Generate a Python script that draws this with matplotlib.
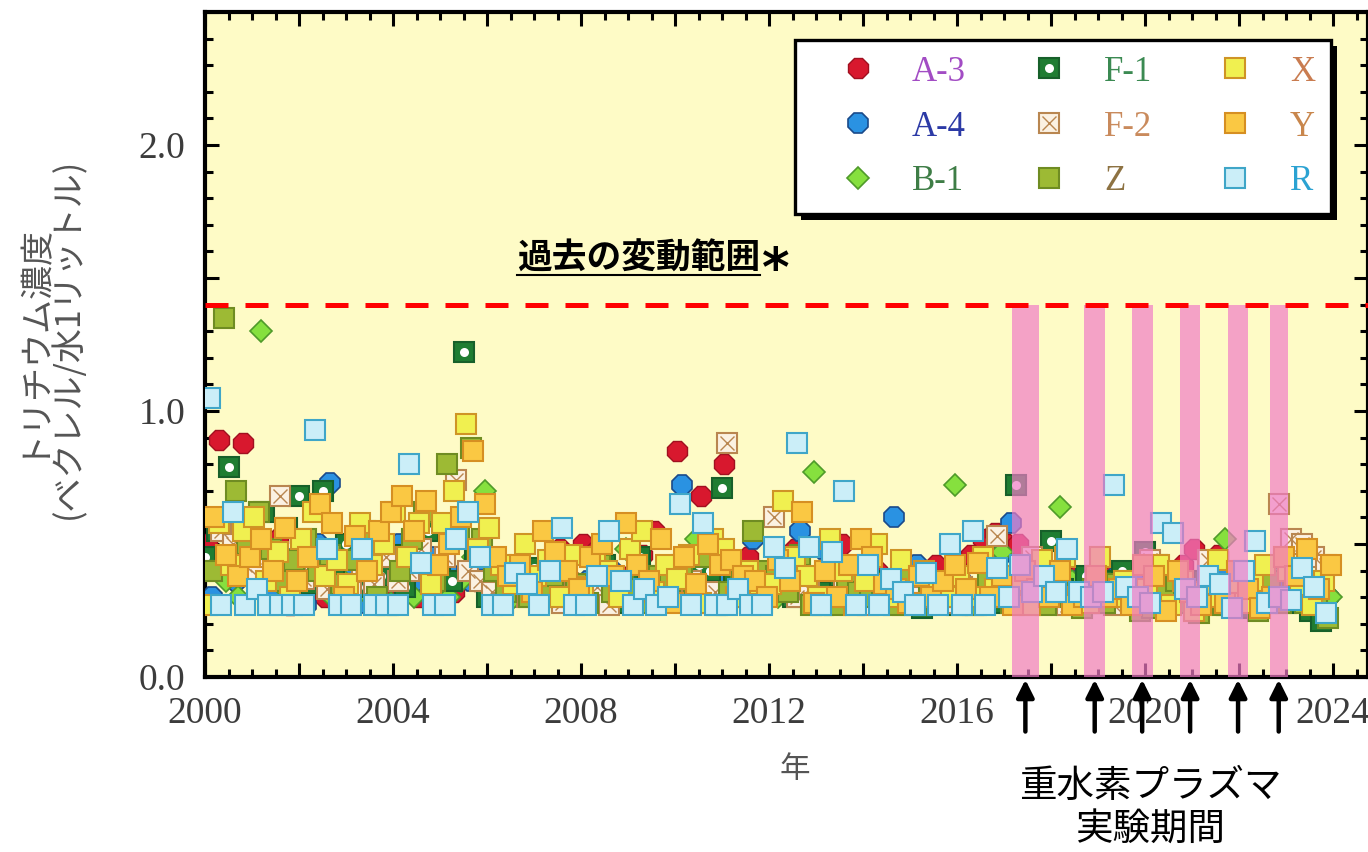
import numpy as np
import matplotlib
matplotlib.use("Agg")
import matplotlib.pyplot as plt
from matplotlib.lines import Line2D
from matplotlib.patches import Rectangle
from matplotlib.legend_handler import HandlerTuple
from matplotlib.ticker import MultipleLocator, FuncFormatter

JP = ["Noto Sans CJK JP", "DejaVu Sans"]
plt.rcParams["font.family"] = ["Liberation Serif", "DejaVu Serif"]

# ---------------------------------------------------------------- data
stations = ["A-3", "A-4", "B-1", "F-1", "F-2", "Z", "X", "Y", "R"]

# first sampling date of each station (decimal year); quarterly afterwards
first_sample = [2000.05, 2000.15, 2000.20, 2000.00, 2000.10,
                2000.15, 2000.05, 2000.20, 2000.10]

# tritium concentration, Bq per litre of water, one row per year 2000-2023
a3_vals = [
    0.50, 0.89, 0.60, 0.88,  0.45, 0.40, 0.52, 0.27,  0.38, 0.45, 0.30, 0.42,
    0.40, 0.35, 0.48, 0.33,  0.36, 0.42, 0.30, 0.38,  0.45, 0.32, 0.40, 0.36,
    0.38, 0.30, 0.42, 0.35,  0.33, 0.40, 0.48, 0.36,  0.50, 0.47, 0.35, 0.30,
    0.38, 0.46, 0.55, 0.32,  0.85, 0.44, 0.68, 0.40,  0.80, 0.35, 0.45, 0.33,
    0.40, 0.36, 0.48, 0.33,  0.38, 0.30, 0.50, 0.35,  0.33, 0.40, 0.30, 0.36,
    0.30, 0.36, 0.42, 0.33,  0.40, 0.46, 0.52, 0.54,  0.50, 0.50, 0.42, 0.36,
    0.36, 0.33, 0.38, 0.35,  0.40, 0.38, 0.36, 0.33,  0.30, 0.38, 0.33, 0.42,
    0.48, 0.36, 0.46, 0.40,  0.35, 0.38, 0.33, 0.30,  0.36, 0.30, 0.33, 0.28,
]
a4_vals = [
    0.30, 0.42, 0.36, 0.48,  0.40, 0.30, 0.45, 0.35,  0.27, 0.50, 0.73, 0.40,
    0.38, 0.28, 0.42, 0.48,  0.50, 0.35, 0.58, 0.45,  0.40, 0.52, 0.36, 0.44,
    0.33, 0.38, 0.30, 0.36,  0.40, 0.35, 0.32, 0.30,  0.36, 0.30, 0.40, 0.33,
    0.30, 0.36, 0.33, 0.28,  0.72, 0.40, 0.35, 0.30,  0.38, 0.30, 0.52, 0.35,
    0.33, 0.40, 0.55, 0.30,  0.48, 0.35, 0.40, 0.33,  0.30, 0.36, 0.60, 0.40,
    0.42, 0.33, 0.36, 0.30,  0.35, 0.30, 0.40, 0.45,  0.58, 0.42, 0.36, 0.33,
    0.30, 0.36, 0.34, 0.30,  0.33, 0.38, 0.30, 0.36,  0.40, 0.30, 0.33, 0.28,
    0.33, 0.30, 0.38, 0.30,  0.30, 0.33, 0.28, 0.35,  0.28, 0.30, 0.26, 0.30,
]
b1_vals = [
    0.41, 0.36, 0.30, 0.45,  1.30, 0.40, 0.33, 0.38,  0.35, 0.45, 0.30, 0.36,
    0.30, 0.38, 0.33, 0.28,  0.36, 0.30, 0.40, 0.34,  0.30, 0.36, 0.45, 0.70,
    0.33, 0.28, 0.36, 0.30,  0.30, 0.45, 0.33, 0.28,  0.34, 0.30, 0.38, 0.48,
    0.28, 0.33, 0.30, 0.36,  0.30, 0.52, 0.36, 0.28,  0.33, 0.30, 0.28, 0.35,
    0.30, 0.36, 0.36, 0.77,  0.33, 0.30, 0.36, 0.28,  0.30, 0.28, 0.33, 0.30,
    0.28, 0.33, 0.30, 0.72,  0.30, 0.28, 0.33, 0.47,  0.36, 0.30, 0.42, 0.33,
    0.64, 0.36, 0.28, 0.33,  0.30, 0.33, 0.28, 0.30,  0.33, 0.30, 0.36, 0.28,
    0.30, 0.28, 0.52, 0.33,  0.30, 0.28, 0.30, 0.42,  0.33, 0.30, 0.28, 0.30,
]
f1_vals = [
    0.45, 0.55, 0.79, 0.38,  0.48, 0.62, 0.40, 0.56,  0.68, 0.35, 0.70, 0.42,
    0.50, 0.34, 0.45, 0.38,  0.46, 0.34, 0.40, 0.55,  0.42, 0.36, 1.22, 0.47,
    0.30, 0.40, 0.36, 0.33,  0.41, 0.30, 0.36, 0.32,  0.35, 0.30, 0.42, 0.28,
    0.36, 0.45, 0.30, 0.34,  0.30, 0.37, 0.42, 0.40,  0.71, 0.36, 0.32, 0.30,
    0.33, 0.45, 0.30, 0.35,  0.28, 0.32, 0.38, 0.30,  0.34, 0.28, 0.36, 0.30,
    0.30, 0.26, 0.33, 0.36,  0.27, 0.32, 0.30, 0.28,  0.30, 0.72, 0.34, 0.30,
    0.51, 0.33, 0.30, 0.38,  0.28, 0.36, 0.40, 0.30,  0.47, 0.42, 0.30, 0.33,
    0.28, 0.36, 0.30, 0.27,  0.32, 0.26, 0.33, 0.30,  0.28, 0.30, 0.25, 0.21,
]
f2_vals = [
    0.40, 0.55, 0.50, 0.42,  0.38, 0.45, 0.68, 0.36,  0.37, 0.44, 0.33, 0.30,
    0.32, 0.42, 0.35, 0.45,  0.36, 0.40, 0.48, 0.38,  0.45, 0.74, 0.40, 0.36,
    0.32, 0.28, 0.36, 0.30,  0.34, 0.30, 0.28, 0.33,  0.30, 0.34, 0.27, 0.36,
    0.28, 0.33, 0.38, 0.30,  0.32, 0.36, 0.28, 0.32,  0.88, 0.30, 0.34, 0.28,
    0.60, 0.32, 0.30, 0.33,  0.30, 0.28, 0.35, 0.30,  0.27, 0.32, 0.29, 0.27,
    0.30, 0.27, 0.33, 0.28,  0.34, 0.27, 0.30, 0.53,  0.30, 0.28, 0.45, 0.30,
    0.33, 0.27, 0.30, 0.28,  0.30, 0.27, 0.36, 0.30,  0.44, 0.28, 0.30, 0.33,
    0.27, 0.44, 0.30, 0.28,  0.30, 0.28, 0.33, 0.65,  0.52, 0.50, 0.45, 0.42,
]
z_vals = [
    0.40, 1.35, 0.70, 0.50,  0.62, 0.48, 0.36, 0.44,  0.52, 0.40, 0.46, 0.35,
    0.44, 0.55, 0.30, 0.27,  0.40, 0.52, 0.62, 0.36,  0.80, 0.55, 0.86, 0.52,
    0.40, 0.32, 0.36, 0.30,  0.34, 0.38, 0.30, 0.35,  0.28, 0.42, 0.32, 0.35,
    0.33, 0.28, 0.38, 0.36,  0.42, 0.30, 0.45, 0.27,  0.32, 0.38, 0.55, 0.40,
    0.38, 0.32, 0.46, 0.27,  0.27, 0.27, 0.36, 0.32,  0.30, 0.33, 0.27, 0.38,
    0.27, 0.34, 0.36, 0.30,  0.33, 0.27, 0.36, 0.30,  0.28, 0.34, 0.30, 0.27,
    0.36, 0.30, 0.26, 0.33,  0.28, 0.35, 0.30, 0.25,  0.26, 0.33, 0.36, 0.28,
    0.24, 0.30, 0.27, 0.33,  0.30, 0.25, 0.36, 0.28,  0.33, 0.28, 0.30, 0.22,
]
x_vals = [
    0.27, 0.58, 0.42, 0.55,  0.60, 0.36, 0.47, 0.30,  0.52, 0.62, 0.38, 0.44,
    0.35, 0.58, 0.42, 0.50,  0.62, 0.45, 0.58, 0.35,  0.58, 0.70, 0.95, 0.48,
    0.56, 0.42, 0.35, 0.50,  0.38, 0.44, 0.30, 0.46,  0.34, 0.45, 0.40, 0.30,
    0.48, 0.55, 0.32, 0.42,  0.37, 0.46, 0.28, 0.52,  0.48, 0.30, 0.40, 0.35,
    0.35, 0.66, 0.45, 0.38,  0.30, 0.52, 0.40, 0.27,  0.36, 0.50, 0.30, 0.44,
    0.28, 0.40, 0.34, 0.30,  0.38, 0.30, 0.45, 0.33,  0.30, 0.36, 0.27, 0.44,
    0.33, 0.45, 0.30, 0.28,  0.45, 0.30, 0.36, 0.28,  0.33, 0.42, 0.27, 0.36,
    0.25, 0.30, 0.44, 0.33,  0.28, 0.36, 0.42, 0.30,  0.40, 0.33, 0.27, 0.36,
]
y_vals = [
    0.60, 0.46, 0.38, 0.45,  0.52, 0.40, 0.56, 0.36,  0.45, 0.65, 0.58, 0.30,
    0.53, 0.40, 0.55, 0.62,  0.68, 0.55, 0.66, 0.42,  0.50, 0.60, 0.85, 0.65,
    0.45, 0.38, 0.42, 0.32,  0.55, 0.47, 0.40, 0.33,  0.45, 0.50, 0.38, 0.58,
    0.42, 0.36, 0.52, 0.28,  0.45, 0.35, 0.50, 0.42,  0.44, 0.38, 0.36, 0.30,
    0.44, 0.36, 0.62, 0.28,  0.40, 0.30, 0.42, 0.52,  0.45, 0.35, 0.33, 0.28,
    0.38, 0.30, 0.36, 0.42,  0.33, 0.43, 0.30, 0.38,  0.27, 0.40, 0.33, 0.30,
    0.40, 0.27, 0.30, 0.38,  0.30, 0.33, 0.27, 0.42,  0.38, 0.25, 0.40, 0.32,
    0.27, 0.35, 0.28, 0.40,  0.33, 0.26, 0.30, 0.45,  0.38, 0.48, 0.33, 0.42,
]
r_vals = [
    1.05, 0.27, 0.62, 0.27,  0.33, 0.27, 0.27, 0.27,  0.27, 0.93, 0.48, 0.27,
    0.27, 0.48, 0.27, 0.27,  0.27, 0.80, 0.43, 0.27,  0.27, 0.52, 0.62, 0.45,
    0.27, 0.27, 0.39, 0.35,  0.27, 0.40, 0.56, 0.27,  0.27, 0.38, 0.55, 0.36,
    0.27, 0.33, 0.27, 0.30,  0.65, 0.27, 0.58, 0.27,  0.27, 0.33, 0.27, 0.27,
    0.49, 0.41, 0.88, 0.49,  0.27, 0.47, 0.70, 0.27,  0.42, 0.27, 0.37, 0.32,
    0.27, 0.39, 0.27, 0.50,  0.27, 0.55, 0.27, 0.41,  0.30, 0.42, 0.32, 0.38,
    0.32, 0.48, 0.32, 0.30,  0.32, 0.72, 0.34, 0.30,  0.28, 0.58, 0.54, 0.33,
    0.30, 0.38, 0.35, 0.26,  0.40, 0.51, 0.28, 0.30,  0.29, 0.41, 0.34, 0.24,
]
all_vals = [a3_vals, a4_vals, b1_vals, f1_vals, f2_vals,
            z_vals, x_vals, y_vals, r_vals]

# deuterium plasma experiment campaigns (decimal years)
campaign_start = [2017.16, 2018.71, 2019.72, 2020.75, 2021.77, 2022.65]
campaign_end = [2017.75, 2019.15, 2020.16, 2021.17, 2022.19, 2023.04]

past_range_max = 1.40

# ---------------------------------------------------------------- styles
styles = {
    "A-3": dict(marker="8", ms=15, mfc="#d8182e", mec="#a01020", mew=1.0),
    "A-4": dict(marker="8", ms=15, mfc="#2a92e2", mec="#1a4a8a", mew=1.2),
    "B-1": dict(marker="D", ms=11.5, mfc="#86e03e", mec="#4f9a2a", mew=1.2),
    "F-1": dict(marker="s", ms=15, mfc="#1f7d32", mec="#17602a", mew=1.5),
    "F-2": dict(marker="s", ms=15, mfc="#fbf1e2", mec="#b98650", mew=1.5),
    "Z":   dict(marker="s", ms=15, mfc="#9dba34", mec="#6f8c22", mew=1.5),
    "X":   dict(marker="s", ms=15, mfc="#f0f050", mec="#cf9426", mew=1.5),
    "Y":   dict(marker="s", ms=15, mfc="#fac843", mec="#d68f22", mew=1.5),
    "R":   dict(marker="s", ms=15, mfc="#cbeef8", mec="#3fa6c8", mew=1.5),
}
inner = {
    "F-1": dict(marker="o", ms=6.5, mfc="white", mec="none"),
    "F-2": dict(marker="x", ms=10, mec="#b98650", mew=1.0),
}
label_colors = ["#a24cc4", "#2c3aa6", "#3e7d46", "#3b8a52", "#c98a5c",
                "#8d7242", "#c97c50", "#c8864c", "#2ba2d2"]

# ---------------------------------------------------------------- figure
fig = plt.figure(figsize=(13.68, 8.52), dpi=100)
ax = fig.add_axes([205 / 1368, 175 / 852, 1163 / 1368, 665 / 852])
ax.set_facecolor("#fefbc6")
ax.set_xlim(2000, 2000 + 1163 / 47)
ax.set_ylim(0, 2.5)

handles = []
for i, (name, t0, vals) in enumerate(zip(stations, first_sample, all_vals)):
    v = np.array(vals, dtype=float)
    t = t0 + 0.25 * np.arange(len(v))
    z = 3 + i * 0.1
    ax.plot(t, v, ls="none", zorder=z, **styles[name])
    h = Line2D([], [], ls="none", **styles[name])
    if name in inner:
        ax.plot(t, v, ls="none", zorder=z + 0.05, **inner[name])
        h = (h, Line2D([], [], ls="none", **inner[name]))
    handles.append(h)

# campaign bands and past-range line
for s, e in zip(campaign_start, campaign_end):
    ax.axvspan(s, e, ymin=0, ymax=past_range_max / 2.5, color="#f07cc6",
               alpha=0.7, lw=0, zorder=5)
ax.axhline(past_range_max, color="#ff0000", lw=3.6, dashes=(4.6, 3.4), zorder=6)

# arrows under the axis marking the campaigns
for s, e in zip(campaign_start, campaign_end):
    xc = 0.5 * (s + e)
    ax.annotate("", xy=(xc, -0.004), xycoords=ax.get_xaxis_transform(),
                xytext=(xc, -0.082), textcoords=ax.get_xaxis_transform(),
                arrowprops=dict(arrowstyle="-|>", color="black", lw=3.2,
                                mutation_scale=26, shrinkA=0, shrinkB=0),
                annotation_clip=False, zorder=9)

# ---------------------------------------------------------------- axes
ax.xaxis.set_major_locator(MultipleLocator(2))
ax.xaxis.set_minor_locator(MultipleLocator(0.5))
ax.xaxis.set_major_formatter(FuncFormatter(
    lambda v, p: f"{int(round(v))}" if int(round(v)) % 4 == 0 else ""))
ax.yaxis.set_major_locator(MultipleLocator(0.5))
ax.yaxis.set_minor_locator(MultipleLocator(0.1))
ax.yaxis.set_major_formatter(FuncFormatter(
    lambda v, p: f"{v:.1f}" if abs(v - round(v)) < 1e-6 else ""))
ax.tick_params(which="both", direction="in", top=True, right=True,
               color="black", labelcolor="#3c3c3c", labelsize=27, width=2.2)
ax.tick_params(which="major", length=10, pad=14)
ax.tick_params(which="minor", length=5.5)
for sp in ax.spines.values():
    sp.set_linewidth(3)
    sp.set_color("black")

fig.text(49 / 1368, (852 - 338) / 852, "トリチウム濃度\n(ベクレル/水1リットル)",
         rotation=90, ha="center", va="center", multialignment="center",
         fontsize=24.5, family=JP, color="#555555", linespacing=1.15)
fig.text(795 / 1368, (852 - 770) / 852, "年", ha="center", va="center",
         fontsize=22, family=JP, color="#555555")
fig.text(1150 / 1368, (852 - 808) / 852, "重水素プラズマ\n実験期間",
         ha="center", va="center", multialignment="center",
         fontsize=27, family=JP, color="black", linespacing=1.15)

past_txt = ax.text(2000 + 312 / 47, (677 - 258) / 266, "過去の変動範囲",
                   family=JP, fontweight="bold", fontsize=25, ha="left",
                   va="center", color="black", zorder=8)

# ---------------------------------------------------------------- legend
leg = ax.legend(handles, stations, ncol=3, loc="upper left",
                bbox_to_anchor=(795 / 1368, (852 - 40) / 852),
                bbox_transform=fig.transFigure, borderaxespad=0,
                frameon=True, fancybox=False,
                edgecolor="black", facecolor="white", framealpha=1,
                fontsize=25, handlelength=2.7, handletextpad=0.22,
                columnspacing=1.05, labelspacing=0.63, borderpad=0.45,
                handler_map={tuple: HandlerTuple(ndivide=1)})
leg.get_frame().set_linewidth(2.4)
leg.set_zorder(20)
for txt, c in zip(leg.get_texts(), label_colors):
    txt.set_color(c)

# underline, asterisk and legend shadow depend on rendered extents
fig.canvas.draw()
renderer = fig.canvas.get_renderer()
to_axes = ax.transAxes.inverted()

bb = past_txt.get_window_extent(renderer)
(ux0, uy), (ux1, _) = to_axes.transform([(bb.x0, bb.y0 + 1), (bb.x1, bb.y0 + 1)])
ax.plot([ux0, ux1], [uy, uy], color="black", lw=1.5,
        transform=ax.transAxes, clip_on=False, zorder=8)
ax_x, ax_y = to_axes.transform((bb.x1 + 2, (852 - 286)))
ax.text(ax_x, ax_y, "*", transform=ax.transAxes, family="DejaVu Sans",
        fontweight="bold", fontsize=38, ha="left", va="baseline",
        color="black", zorder=8)

fb = leg.get_frame().get_window_extent(renderer)
(sx0, sy0), (sx1, sy1) = to_axes.transform([(fb.x0 + 6, fb.y0 - 6),
                                            (fb.x1 + 6, fb.y1 - 6)])
ax.add_patch(Rectangle((sx0, sy0), sx1 - sx0, sy1 - sy0, transform=ax.transAxes,
                       facecolor="black", edgecolor="none", clip_on=False,
                       zorder=19))

fig.savefig("out.png", dpi=100, facecolor="white")
